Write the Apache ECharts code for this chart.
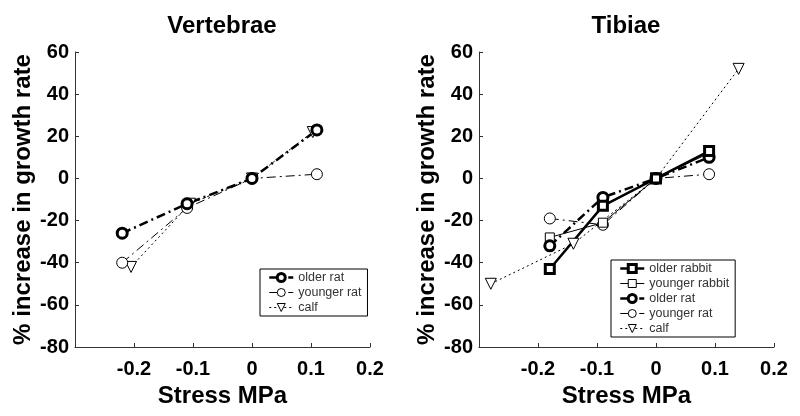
<!DOCTYPE html>
<html>
<head>
<meta charset="utf-8">
<script src="https://cdn.jsdelivr.net/npm/echarts@6/dist/echarts.min.js"></script>
<style>
  html, body { margin: 0; padding: 0; background: #fff; }
  #main { width: 800px; height: 416px; }
</style>
</head>
<body>
<div id="main"></div>
<script>
// panel titles
const panelTitles = ['Vertebrae', 'Tibiae'];

// Vertebrae: [stress MPa, % increase]
const vertOlderRat = [[-0.22, -26], [-0.11, -12], [0, 0], [0.11, 23]];
const vertYoungerRat = [[-0.22, -40], [-0.11, -14], [0, 0], [0.11, 2]];
const vertCalf = [[-0.205, -42], [-0.105, -12], [0, 0], [0.103, 22]];

// Tibiae
const tibOlderRabbit = [[-0.18, -43], [-0.09, -13], [0, 0], [0.09, 13]];
const tibYoungerRabbit = [[-0.18, -28], [-0.09, -21], [0, 0], [0.09, 12]];
const tibOlderRat = [[-0.18, -32], [-0.09, -9], [0, 0], [0.09, 10]];
const tibYoungerRat = [[-0.18, -19], [-0.09, -22], [0, 0], [0.09, 2]];
const tibCalf = [[-0.28, -50], [-0.14, -31], [0, 0], [0.14, 52]];

const FONT = '"Liberation Sans", Arial, Helvetica, sans-serif';
const DASHDOT = [9, 4, 2, 4];
const DOTTED = [2, 3];

// line / marker styles per group
const styles = {
    'older rabbit': { symbol: 'rect', size: 9, border: 3, width: 2.5, type: 'solid', rot: 0 },
    'younger rabbit': { symbol: 'rect', size: 9, border: 1, width: 1, type: 'solid', rot: 0 },
    'older rat': { symbol: 'circle', size: 10, border: 3, width: 2.5, type: DASHDOT, rot: 0 },
    'younger rat': { symbol: 'circle', size: 11, border: 1, width: 1, type: DASHDOT, rot: 0 },
    'calf': { symbol: 'triangle', size: 11, border: 1, width: 1, type: DOTTED, rot: 180 }
};

function makeSeries (name, data, idx) {
    const s = styles[name];
    return {
        name: name,
        type: 'line',
        xAxisIndex: idx,
        yAxisIndex: idx,
        data: data,
        symbol: s.symbol,
        symbolSize: s.size,
        symbolRotate: s.rot,
        showAllSymbol: true,
        animation: false,
        lineStyle: { color: '#000', width: s.width, type: s.type },
        itemStyle: { color: '#fff', borderColor: '#000', borderWidth: s.border }
    };
}

function xAxis (idx) {
    return {
        gridIndex: idx,
        type: 'value',
        min: -0.3,
        max: 0.2,
        interval: 0.1,
        name: 'Stress MPa',
        nameLocation: 'middle',
        nameGap: 32,
        nameTextStyle: { fontFamily: FONT, fontWeight: 'bold', fontSize: 24, color: '#000' },
        axisLine: { onZero: false, lineStyle: { color: '#333', width: 1 } },
        axisTick: { inside: true, length: 4, lineStyle: { color: '#333' } },
        axisLabel: { showMinLabel: false, margin: 12, fontFamily: FONT, fontWeight: 'bold', fontSize: 20, color: '#000' },
        splitLine: { show: false }
    };
}

function yAxis (idx) {
    return {
        gridIndex: idx,
        type: 'value',
        min: -80,
        max: 60,
        interval: 20,
        name: '% increase in growth rate',
        nameLocation: 'middle',
        nameRotate: 90,
        nameGap: 40,
        nameTextStyle: { fontFamily: FONT, fontWeight: 'bold', fontSize: 24, color: '#000' },
        axisLine: { show: true, onZero: false, lineStyle: { color: '#333', width: 1 } },
        axisTick: { show: true, inside: true, length: 4, lineStyle: { color: '#333' } },
        axisLabel: { margin: 6, fontFamily: FONT, fontWeight: 'bold', fontSize: 20, color: '#000' },
        splitLine: { show: false }
    };
}

function legend (names, left, top) {
    return {
        data: names.map(function (n) {
            const s = styles[n];
            return {
                name: n,
                itemStyle: { color: '#fff', borderColor: '#000', borderWidth: s.border },
                lineStyle: { color: '#000', width: s.width, type: s.type }
            };
        }),
        orient: 'vertical',
        left: left,
        top: top,
        itemWidth: 24,
        itemHeight: 10,
        itemGap: 2,
        padding: [2, 6, 2, 8],
        borderColor: '#000',
        borderWidth: 1,
        backgroundColor: '#fff',
        selectedMode: false,
        textStyle: { fontFamily: FONT, fontSize: 12.5, lineHeight: 12, color: '#333' }
    };
}

const chart = echarts.init(document.getElementById('main'));
chart.setOption({
    backgroundColor: '#fff',
    animation: false,
    grid: [
        { left: 75, right: 430, top: 52, bottom: 69 },
        { left: 479, right: 26, top: 52, bottom: 69 }
    ],
    xAxis: [xAxis(0), xAxis(1)],
    yAxis: [yAxis(0), yAxis(1)],
    legend: [
        legend(['older rat', 'younger rat', 'calf'], 260, 269),
        legend(['older rabbit', 'younger rabbit', 'older rat', 'younger rat', 'calf'], 611, 260)
    ],
    graphic: [
        { type: 'text', x: 222, y: 26, style: { text: panelTitles[0], textAlign: 'center', textVerticalAlign: 'middle', font: 'bold 24px ' + FONT, fill: '#000' } },
        { type: 'text', x: 626, y: 26, style: { text: panelTitles[1], textAlign: 'center', textVerticalAlign: 'middle', font: 'bold 24px ' + FONT, fill: '#000' } }
    ],
    series: [
        makeSeries('calf', vertCalf, 0),
        makeSeries('younger rat', vertYoungerRat, 0),
        makeSeries('older rat', vertOlderRat, 0),
        makeSeries('calf', tibCalf, 1),
        makeSeries('younger rat', tibYoungerRat, 1),
        makeSeries('younger rabbit', tibYoungerRabbit, 1),
        makeSeries('older rat', tibOlderRat, 1),
        makeSeries('older rabbit', tibOlderRabbit, 1)
    ]
});
</script>
</body>
</html>
